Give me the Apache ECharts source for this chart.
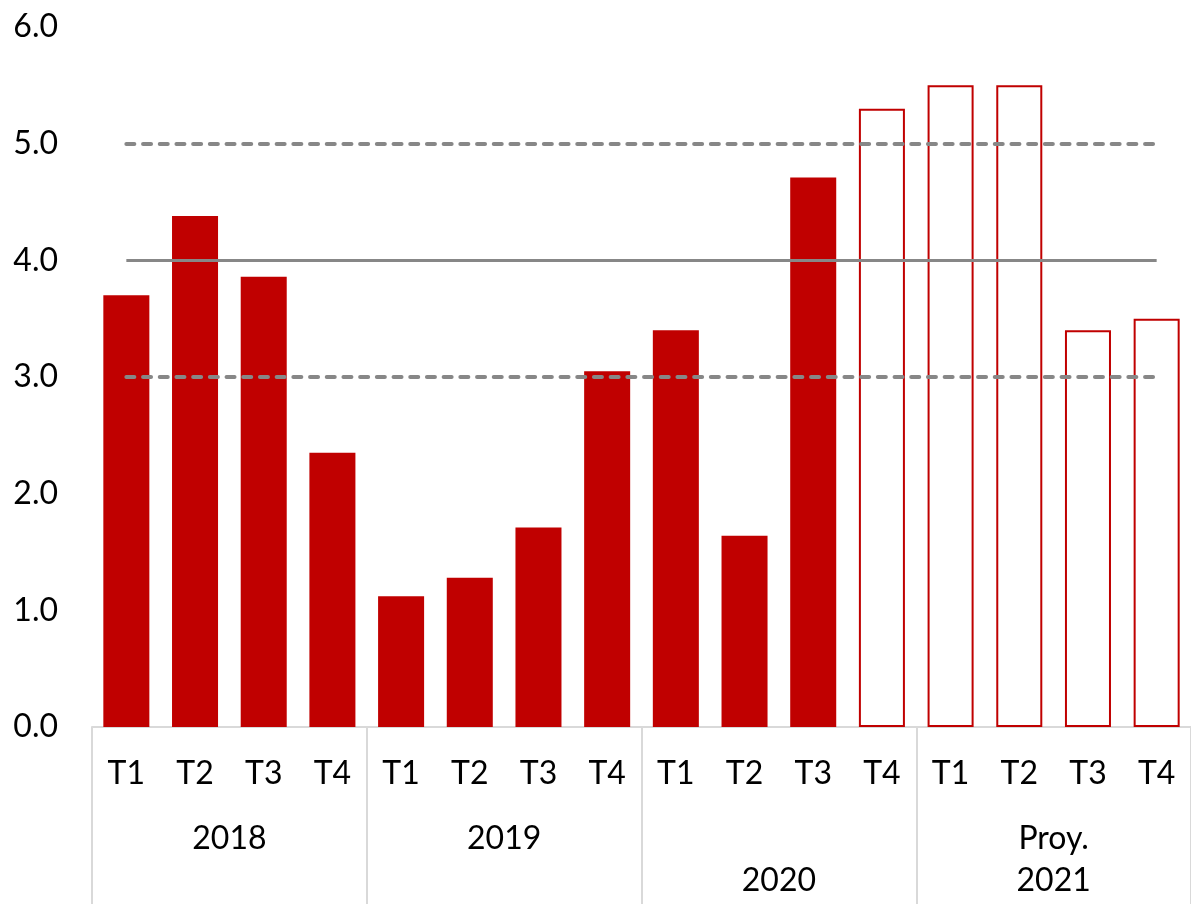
<!DOCTYPE html>
<html lang="es">
<head>
    <meta charset="UTF-8">
    <script src="https://cdn.jsdelivr.net/npm/echarts@6/dist/echarts.min.js"></script>
    <title>Trimestres</title>
    <style type="text/css">
        html, body { margin: 0; padding: 0; background: #ffffff; }
        #chart { width: 1191px; height: 904px; }
    </style>
</head>
<body>
    <div id="chart"></div>
<script type="text/javascript">
    // datos
    var quarters = ['T1', 'T2', 'T3', 'T4', 'T1', 'T2', 'T3', 'T4',
                    'T1', 'T2', 'T3', 'T4', 'T1', 'T2', 'T3', 'T4'];
    var years = ['2018', '2019', '\n2020', 'Proy.\n2021'];
    var observed = [3.7, 4.38, 3.86, 2.35, 1.12, 1.28, 1.71, 3.05,
                    3.4, 1.64, 4.71, '-', '-', '-', '-', '-'];
    var projected = ['-', '-', '-', '-', '-', '-', '-', '-',
                     '-', '-', '-', 5.3, 5.5, 5.5, 3.4, 3.5];
    var rangeLines = [3, 4, 5];
    var yTicks = [0, 1, 2, 3, 4, 5, 6];

    var font = 'Lato, "Open Sans", sans-serif';
    var red = '#C00000';

    function hLine(v, dashed) {
        return [{
            xAxis: 0, yAxis: v,
            lineStyle: {
                color: '#878787',
                width: dashed ? 4 : 3,
                type: dashed ? [8, 8.7] : 'solid',
                cap: dashed ? 'round' : 'butt'
            }
        }, { xAxis: quarters.length - 1, yAxis: v }];
    }

    var option = {
        animation: false,
        grid: { left: 92, right: -6, top: 27, bottom: 177, containLabel: false },
        xAxis: [
            {
                type: 'category',
                data: quarters,
                axisLine: { show: true, lineStyle: { color: '#d9d9d9', width: 2 } },
                axisTick: { show: false },
                axisLabel: { color: '#000', fontSize: 32, fontFamily: font, margin: 31, interval: 0 }
            },
            {
                type: 'category',
                data: years,
                position: 'bottom',
                axisLine: { show: false },
                axisTick: { show: true, length: 180, lineStyle: { color: '#d9d9d9', width: 2 } },
                axisLabel: { color: '#000', fontSize: 32, fontFamily: font, margin: 91, lineHeight: 42, interval: 0 }
            }
        ],
        yAxis: {
            type: 'value',
            min: yTicks[0],
            max: yTicks[yTicks.length - 1],
            interval: 1,
            axisLine: { show: false },
            axisTick: { show: false },
            splitLine: { show: false },
            axisLabel: {
                color: '#000', fontSize: 32, fontFamily: font, margin: 34,
                formatter: function (v) { return v.toFixed(1); }
            }
        },
        series: [
            {
                name: 'observado',
                type: 'bar',
                xAxisIndex: 0,
                data: observed,
                barCategoryGap: '33%',
                barGap: '-100%',
                itemStyle: { color: red },
                z: 2
            },
            {
                name: 'proyectado',
                type: 'bar',
                xAxisIndex: 0,
                data: projected,
                barCategoryGap: '33%',
                barGap: '-100%',
                itemStyle: { color: '#ffffff', borderColor: red, borderWidth: 2 },
                z: 2,
                markLine: {
                    silent: true,
                    symbol: 'none',
                    label: { show: false },
                    z: 5,
                    data: [
                        hLine(rangeLines[0], true),
                        hLine(rangeLines[1], false),
                        hLine(rangeLines[2], true)
                    ]
                }
            }
        ]
    };

    var myChart = echarts.init(document.getElementById('chart'));
    myChart.setOption(option);
</script>
</body>
</html>
